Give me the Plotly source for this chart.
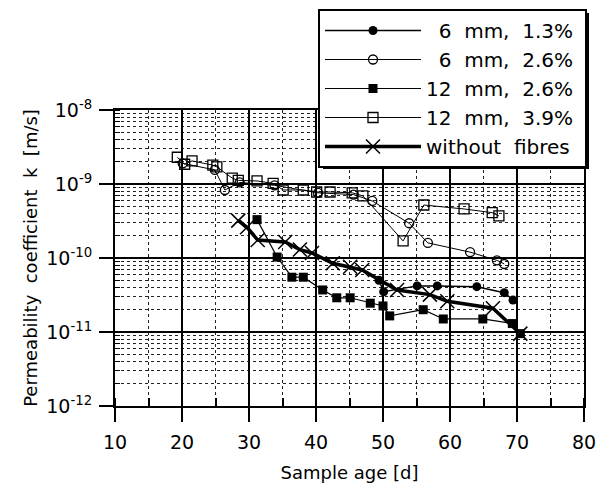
import plotly.graph_objects as go

# ---------------- data ----------------
days_6_13 = [49.4, 50.1, 55.1, 58.1, 64.0, 68.1, 69.4]
k_6_13 = [5.0e-11, 3.5e-11, 4.2e-11, 4.2e-11, 4.1e-11, 3.4e-11, 2.7e-11]

days_6_26 = [20.1, 24.9, 26.4, 28.6, 33.8, 40.3, 45.6, 48.4, 53.9, 56.7, 63.0, 67.0, 68.1]
k_6_26 = [1.9e-9, 1.55e-9, 8.3e-10, 1.05e-9, 9.6e-10, 7.6e-10, 7.2e-10, 5.9e-10,
          2.95e-10, 1.6e-10, 1.2e-10, 9.3e-11, 8.3e-11]

days_12_26 = [31.2, 34.2, 36.4, 38.1, 41.0, 43.1, 45.1, 48.1, 50.0, 51.0, 56.0, 59.0, 64.9, 69.3, 70.5]
k_12_26 = [3.3e-10, 1.03e-10, 5.5e-11, 5.5e-11, 3.7e-11, 2.9e-11, 2.9e-11, 2.45e-11,
           2.25e-11, 1.65e-11, 2.0e-11, 1.5e-11, 1.5e-11, 1.3e-11, 9.5e-12]

days_12_39 = [19.3, 20.4, 21.5, 24.6, 25.2, 27.5, 28.4, 31.2, 33.6, 35.1, 38.1, 40.1,
              42.1, 45.4, 47.0, 53.0, 56.1, 62.1, 66.3, 67.3]
k_12_39 = [2.3e-9, 1.85e-9, 2.05e-9, 1.8e-9, 1.7e-9, 1.2e-9, 1.12e-9, 1.1e-9, 1.02e-9,
           8.3e-10, 8.3e-10, 7.8e-10, 7.8e-10, 7.6e-10, 6.9e-10, 1.7e-10, 5.2e-10,
           4.6e-10, 4.1e-10, 3.7e-10]

days_none = [28.4, 29.7, 31.3, 35.4, 37.6, 39.4, 42.5, 45.1, 46.9, 52.1, 57.0, 59.6, 66.4, 70.5]
k_none = [3.2e-10, 2.6e-10, 1.75e-10, 1.65e-10, 1.3e-10, 1.17e-10, 8.5e-11, 7.6e-11,
          6.9e-11, 3.7e-11, 3.2e-11, 2.6e-11, 2.1e-11, 9.5e-12]

x_ticks = [10, 20, 30, 40, 50, 60, 70, 80]
y_tickvals = [1e-12, 1e-11, 1e-10, 1e-9, 1e-8]
y_ticktext = ["10<sup>-12</sup>", "10<sup>-11</sup>", "10<sup>-10</sup>",
              "10<sup>-9</sup>", "10<sup>-8</sup>"]

NB = "\u00a0"
names = [
    NB * 2 + "6" + NB * 2 + "mm," + NB * 2 + "1.3%" + NB,
    NB * 2 + "6" + NB * 2 + "mm," + NB * 2 + "2.6%" + NB,
    "12" + NB * 2 + "mm," + NB * 2 + "2.6%" + NB,
    "12" + NB * 2 + "mm," + NB * 2 + "3.9%" + NB,
    "without" + NB * 2 + "fibres" + NB,
]

FONT = "DejaVu Sans, Liberation Sans, Arial, sans-serif"
fig = go.Figure()

fig.add_trace(go.Scatter(
    x=days_6_13, y=k_6_13, name=names[0], mode="lines+markers",
    line=dict(color="black", width=1.5),
    marker=dict(symbol="circle", size=9, color="black")))
fig.add_trace(go.Scatter(
    x=days_6_26, y=k_6_26, name=names[1], mode="lines+markers",
    line=dict(color="black", width=1),
    marker=dict(symbol="circle-open", size=9, color="black", line=dict(width=1.3))))
fig.add_trace(go.Scatter(
    x=days_12_26, y=k_12_26, name=names[2], mode="lines+markers",
    line=dict(color="black", width=1.2),
    marker=dict(symbol="square", size=9, color="black")))
fig.add_trace(go.Scatter(
    x=days_12_39, y=k_12_39, name=names[3], mode="lines+markers",
    line=dict(color="black", width=1),
    marker=dict(symbol="square-open", size=10, color="black", line=dict(width=1.3))))
fig.add_trace(go.Scatter(
    x=days_none, y=k_none, name=names[4], mode="lines+markers",
    line=dict(color="black", width=3.5),
    marker=dict(symbol="x-thin-open", size=14, color="black", line=dict(width=1.5, color="black"))))

axis_common = dict(
    showline=True, linecolor="black", linewidth=2, mirror=True,
    ticks="outside", ticklen=14, tickwidth=2, tickcolor="black",
    showgrid=True, gridcolor="black", gridwidth=1.5,
    zeroline=False,
    tickfont=dict(family=FONT, size=19, color="black"),
)

fig.update_xaxes(
    range=[10, 80], tickvals=x_ticks, ticktext=[str(v) for v in x_ticks],
    ticklabelstandoff=4,
    minor=dict(dtick=5, tick0=10, showgrid=True, gridcolor="#222", gridwidth=1.3,
               griddash="dot", ticks="inside", ticklen=8, tickcolor="black", tickwidth=1.5),
    title=dict(text="Sample age [d]", font=dict(family=FONT, size=18, color="black"), standoff=15),
    **axis_common)

fig.update_yaxes(
    type="log", range=[-12, -8], tickvals=y_tickvals, ticktext=y_ticktext,
    ticklabelstandoff=3,
    minor=dict(dtick="D1", showgrid=True, gridcolor="#222", gridwidth=1.3,
               griddash="dot", ticks="inside", ticklen=5, tickcolor="black", tickwidth=1.2),
    title=dict(text="Permeability" + NB * 2 + "coefficient" + NB * 2 + "k" + NB * 2 + "[m/s]",
               font=dict(family=FONT, size=18, color="black"), standoff=4),
    **axis_common)

# legend drop shadow (decoration behind the legend box)
PX0, PX1, PY0, PY1 = 115, 584, 406, 110   # plot area in page pixels
def px(x):
    return (x - PX0) / (PX1 - PX0)
def py(y):
    return (PY0 - y) / (PY0 - PY1)

fig.add_shape(type="rect", xref="paper", yref="paper",
              x0=px(323), x1=px(589), y0=py(169), y1=py(13),
              fillcolor="black", line=dict(width=0), layer="above")

fig.update_layout(
    width=597, height=487,
    margin=dict(l=115, r=13, t=110, b=81, autoexpand=False),
    paper_bgcolor="white", plot_bgcolor="white",
    showlegend=True,
    legend=dict(
        x=px(318), y=py(9), xanchor="left", yanchor="top",
        bgcolor="white", bordercolor="black", borderwidth=2,
        font=dict(family=FONT, size=20, color="black"),
        itemwidth=96, tracegroupgap=0, traceorder="normal",
    ),
)

# remove the default 8px page margin so the 597x487 figure fills the window exactly
fig.write_html(
    "out.html",
    config={"displayModeBar": False},
    post_script="document.body.style.margin='0';document.documentElement.style.overflow='hidden';",
)
